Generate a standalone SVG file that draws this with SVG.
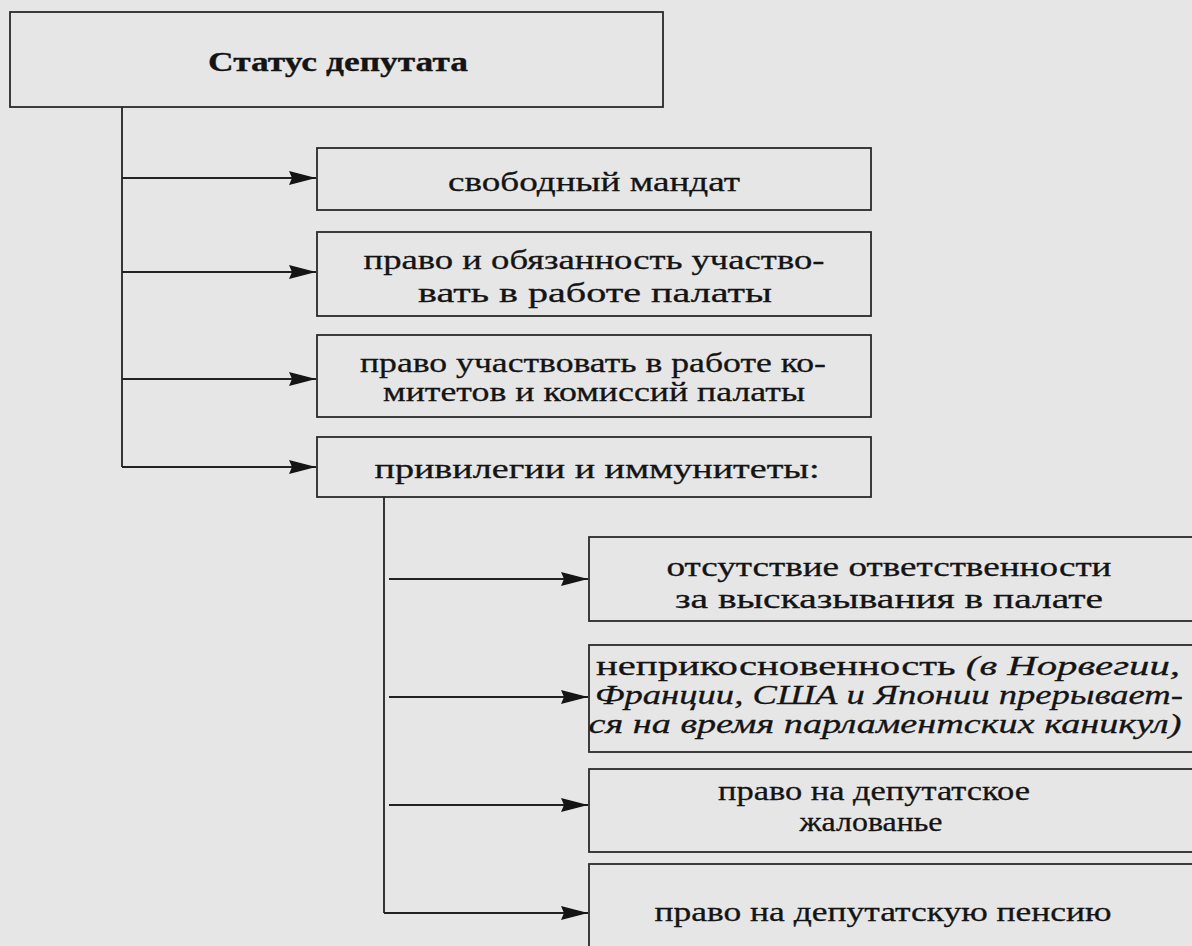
<svg xmlns="http://www.w3.org/2000/svg" width="1192" height="946" viewBox="0 0 1192 946">
<style>
.bg{fill:#e6e6e6}
.box{fill:#e6e6e6;stroke:#2a2a2a;stroke-width:1.8}
.ln{fill:none;stroke:#222;stroke-width:1.8}
text{font-family:"Liberation Serif","DejaVu Serif",serif;font-size:28px;fill:#141414;stroke:#141414;stroke-width:0.3;text-anchor:middle}
.b{font-weight:bold;font-size:27px}
.i{font-style:italic}
</style>
<defs>
<marker id="ah" viewBox="0 0 27 15" refX="27" refY="7.5" markerWidth="27" markerHeight="15" markerUnits="userSpaceOnUse" orient="auto">
<path d="M0,0.5 L27,7.5 L0,14.5 L3,7.5 Z" fill="#141414"/>
</marker>
</defs>
<rect class="bg" x="0" y="0" width="1192" height="946"/>
<g id="connectors">
<path class="ln" d="M122,107 V467"/>
<path class="ln" d="M122,178 H316" marker-end="url(#ah)"/>
<path class="ln" d="M122,272 H316" marker-end="url(#ah)"/>
<path class="ln" d="M122,379 H316" marker-end="url(#ah)"/>
<path class="ln" d="M122,467 H316" marker-end="url(#ah)"/>
<path class="ln" d="M384,497 V913"/>
<path class="ln" d="M389,579 H588" marker-end="url(#ah)"/>
<path class="ln" d="M389,697 H588" marker-end="url(#ah)"/>
<path class="ln" d="M389,805 H588" marker-end="url(#ah)"/>
<path class="ln" d="M384,913 H588" marker-end="url(#ah)"/>
</g>
<g id="n0">
<rect class="box" x="10" y="12" width="653" height="95"/>
<text class="b" x="338" y="71" textLength="260" lengthAdjust="spacingAndGlyphs">Статус депутата</text>
</g>
<g id="n1">
<rect class="box" x="317" y="148" width="554" height="62"/>
<text x="594" y="191" textLength="292" lengthAdjust="spacingAndGlyphs">свободный мандат</text>
</g>
<g id="n2">
<rect class="box" x="317" y="232" width="554" height="84"/>
<text x="594" y="269" textLength="461" lengthAdjust="spacingAndGlyphs">право и обязанность участво-</text>
<text x="595" y="302" textLength="354" lengthAdjust="spacingAndGlyphs">вать в работе палаты</text>
</g>
<g id="n3">
<rect class="box" x="317" y="335" width="554" height="82"/>
<text x="593" y="372" textLength="466" lengthAdjust="spacingAndGlyphs">право участвовать в работе ко-</text>
<text x="594" y="401" textLength="422" lengthAdjust="spacingAndGlyphs">митетов и комиссий палаты</text>
</g>
<g id="n4">
<rect class="box" x="317" y="437" width="554" height="60"/>
<text x="597" y="478" textLength="445" lengthAdjust="spacingAndGlyphs">привилегии и иммунитеты:</text>
</g>
<g id="n5">
<rect class="box" x="589" y="537" width="610" height="84"/>
<text x="889" y="576" textLength="445" lengthAdjust="spacingAndGlyphs">отсутствие ответственности</text>
<text x="889" y="608" textLength="428" lengthAdjust="spacingAndGlyphs">за высказывания в палате</text>
</g>
<g id="n6">
<rect class="box" x="589" y="645" width="610" height="107"/>
<text x="888" y="675" textLength="584" lengthAdjust="spacingAndGlyphs">неприкосновенность <tspan class="i">(в Норвегии,</tspan></text>
<text class="i" x="889" y="704" textLength="588" lengthAdjust="spacingAndGlyphs">Франции, США и Японии прерывает-</text>
<text class="i" x="885" y="733" textLength="593" lengthAdjust="spacingAndGlyphs">ся на время парламентских каникул)</text>
</g>
<g id="n7">
<rect class="box" x="589" y="769" width="610" height="83"/>
<text x="874" y="800" textLength="312" lengthAdjust="spacingAndGlyphs">право на депутатское</text>
<text x="871" y="831" textLength="143" lengthAdjust="spacingAndGlyphs">жалованье</text>
</g>
<g id="n8">
<rect class="box" x="589" y="864" width="610" height="100"/>
<text x="883" y="921" textLength="457" lengthAdjust="spacingAndGlyphs">право на депутатскую пенсию</text>
</g>
</svg>
